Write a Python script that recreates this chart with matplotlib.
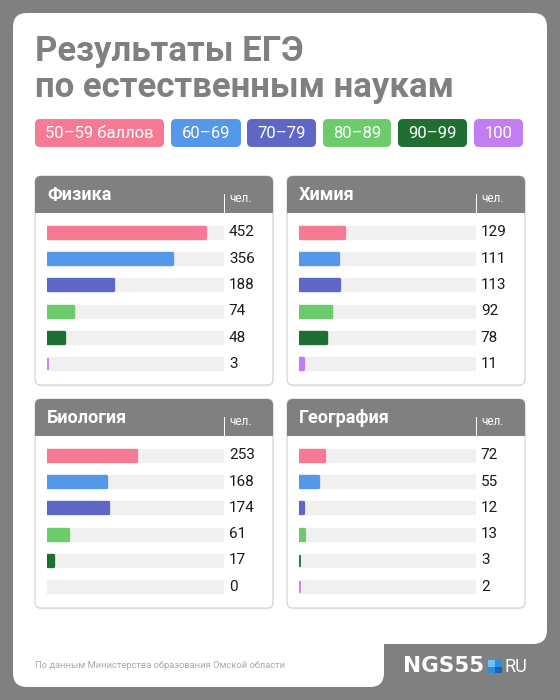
import matplotlib
matplotlib.use("Agg")
import matplotlib.pyplot as plt
from matplotlib.patches import FancyBboxPatch, Rectangle

plt.rcParams['font.family'] = ['Roboto', 'DejaVu Sans']

# ---------------- data ----------------
categories = ["50–59 баллов", "60–69", "70–79", "80–89", "90–99", "100"]
subjects = ["Физика", "Химия", "Биология", "География"]
physics = [452, 356, 188, 74, 48, 3]
chemistry = [129, 111, 113, 92, 78, 11]
biology = [253, 168, 174, 61, 17, 0]
geography = [72, 55, 12, 13, 3, 2]
series = [physics, chemistry, biology, geography]
unit_label = "чел."
title_lines = ["Результаты ЕГЭ", "по естественным наукам"]
source = "По данным Министерства образования Омской области"

# ---------------- style ----------------
colors = ["#F67A93", "#5597E8", "#5E66C6", "#6CCB6B", "#1E6F31", "#C27DF3"]
GRAY = "#808080"
TRACK = "#F0F0F0"
W, H = 560, 700
XMAX = 505

fig = plt.figure(figsize=(W / 100, H / 100), dpi=100)
fig.patch.set_facecolor(GRAY)

bg = fig.add_axes([0, 0, 1, 1])
bg.set_xlim(0, W)
bg.set_ylim(H, 0)
bg.axis("off")


def rbox(ax, x, y, w, h, r, fc, ec="none", lw=0, z=1):
    p = FancyBboxPatch((x, y), w, h, boxstyle=f"round,pad=0,rounding_size={r}",
                       fc=fc, ec=ec, lw=lw, zorder=z)
    ax.add_patch(p)
    return p


# card with notch for the logo
rbox(bg, 13, 13, 534, 631, 14, "white", z=1)
rbox(bg, 13, 400, 371, 287, 14, "white", z=1)
rbox(bg, 384, 644, 300, 200, 14, GRAY, z=2)

# title
bg.text(35, 61, title_lines[0], fontsize=25, fontweight="bold", color=GRAY,
        ha="left", va="baseline", zorder=5)
bg.text(35, 97, title_lines[1], fontsize=25, fontweight="bold", color=GRAY,
        ha="left", va="baseline", zorder=5)

# legend chips
chip_x = [(35, 164), (171, 241), (247, 316), (323, 391), (398, 467), (474, 523)]
for (x0, x1), lab, c in zip(chip_x, categories, colors):
    rbox(bg, x0, 119, x1 - x0, 28, 5, c, z=3)
    bg.text((x0 + x1) / 2, 133.5, lab, fontsize=12, color="white",
            ha="center", va="center", zorder=4)

# panels
panel_pos = [(35, 176), (287, 176), (35, 399), (287, 399)]
PW, PH, HH = 238, 209, 37
for (px, py), name, vals in zip(panel_pos, subjects, series):
    rbox(bg, px + 0.5, py + 1.5, PW, PH, 6, "#00000010", z=2)
    rbox(bg, px, py, PW, PH, 6, "white", ec="#D2D2D2", lw=0.8, z=3)
    rbox(bg, px, py, PW, HH, 6, GRAY, z=4)
    bg.add_patch(Rectangle((px, py + HH - 10), PW, 10, fc=GRAY, ec="none", zorder=4))
    bg.text(px + 12, py + 19, name, fontsize=13, fontweight="bold", color="white",
            ha="left", va="center", zorder=5)
    bg.plot([px + 189, px + 189], [py + 18, py + HH], color="white", lw=0.7, zorder=5)
    bg.text(px + 194, py + 22.5, unit_label, fontsize=8.5, color="white",
            ha="left", va="center", zorder=5)

    ax = fig.add_axes([(px + 12) / W, 1 - (py + 201) / H, 177 / W, 158 / H])
    ax.set_facecolor("none")
    ax.set_xlim(0, XMAX)
    ax.set_ylim(len(vals) - 0.5, -0.5)
    ax.axis("off")
    ypos = list(range(len(vals)))
    ax.barh(ypos, [XMAX] * len(vals), height=0.42, color=TRACK, edgecolor=TRACK,
            linewidth=2.4, joinstyle="round", zorder=1)
    ax.barh(ypos, vals, height=0.42, color=colors, edgecolor=colors,
            linewidth=[2.4 if v > 5 else (0.6 if v > 0 else 0) for v in vals],
            joinstyle="round", zorder=2)
    for yi, v in zip(ypos, vals):
        ax.annotate(str(v), xy=(1, yi), xycoords=ax.get_yaxis_transform(),
                    xytext=(3.5, 0), textcoords="offset points",
                    ha="left", va="center", fontsize=11, color="#1A1A1A",
                    annotation_clip=False)

# footer
bg.text(35, 665, source, fontsize=6.75, color="#A8A8A8", ha="left", va="center", zorder=5)

# logo
bg.text(403, 666.5, "NGS55", fontsize=15.5, fontweight="bold", color="white",
        ha="left", va="center", zorder=5, family=["DejaVu Sans"])
bg.add_patch(Rectangle((488, 660), 7, 6.5, fc="#6EC1F7", ec="none", zorder=5))
bg.add_patch(Rectangle((495, 660), 7, 6.5, fc="#2A8FE0", ec="none", zorder=5))
bg.add_patch(Rectangle((488, 666.5), 7, 6.5, fc="#2A8FE0", ec="none", zorder=5))
bg.add_patch(Rectangle((495, 666.5), 7, 6.5, fc="#1565C0", ec="none", zorder=5))
bg.text(504, 666.5, "RU", fontsize=13, color="white", ha="left", va="center", zorder=5)

fig.savefig("out.png", dpi=100, facecolor=GRAY)
